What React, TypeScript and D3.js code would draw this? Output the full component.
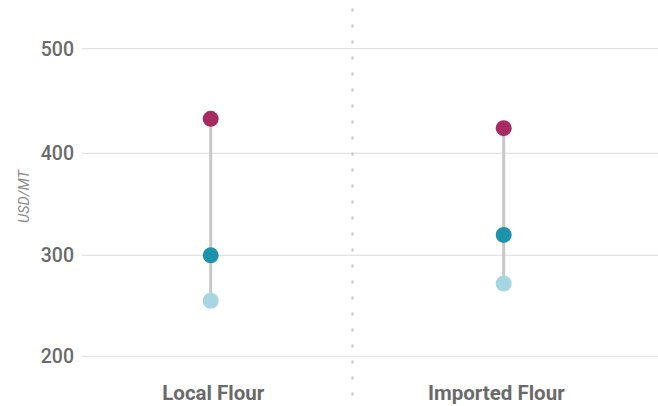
import React from "react";
import * as d3 from "d3";

const categories = ["Local Flour", "Imported Flour"];
const maxValues = [433, 424];
const avgValues = [300, 320];
const minValues = [255, 272];
const yTicks = [200, 300, 400, 500];

const W = 658;
const H = 406;

export default function App() {
  const x = d3.scalePoint<string>().domain(categories).range([210.7, 503.7]);
  const xLabel = d3.scalePoint<string>().domain(categories).range([213.3, 496.3]);
  const y = d3
    .scaleLinear()
    .domain([200, 300, 400, 500])
    .range([356.3, 255.3, 153.3, 48.7]);

  const series = [
    { name: "min", values: minValues, color: "#A6D6E1" },
    { name: "avg", values: avgValues, color: "#1B94AB" },
    { name: "max", values: maxValues, color: "#A72B63" },
  ];

  const font = "Roboto, 'Noto Sans', sans-serif";
  const grey = "#6a6a6a";

  return (
    <svg
      width={W}
      height={H}
      style={{ position: "fixed", left: 0, top: 0, display: "block", background: "#fff" }}
    >
      {yTicks.map((t) => (
        <g key={t}>
          <line x1={82} x2={W} y1={y(t)} y2={y(t)} stroke="#dcdcdc" strokeWidth={1} />
          <text
            x={74}
            y={y(t)}
            dy="0.36em"
            textAnchor="end"
            fontFamily={font}
            fontSize={19.5}
            fontWeight={500}
            fill={grey}
          >
            {t}
          </text>
        </g>
      ))}
      <text
        transform={`translate(28.5,196.5) rotate(-90)`}
        textAnchor="middle"
        fontFamily={font}
        fontStyle="italic"
        fontSize={14.5}
        fill="#8a8a8a"
      >
        USD/MT
      </text>
      <line
        x1={352.5}
        x2={352.5}
        y1={8.5}
        y2={H}
        stroke="#c4c4c4"
        strokeWidth={2}
        strokeDasharray="3 13"
      />
      {categories.map((c, i) => (
        <g key={c}>
          <line
            x1={x(c)}
            x2={x(c)}
            y1={y(maxValues[i])}
            y2={y(minValues[i])}
            stroke="#c8c8c8"
            strokeWidth={3}
          />
          {series.map((s) => (
            <circle key={s.name} cx={x(c)} cy={y(s.values[i])} r={8} fill={s.color} />
          ))}
          <text
            x={xLabel(c)}
            y={399.5}
            textAnchor="middle"
            fontFamily={font}
            fontWeight="bold"
            fontSize={20.5}
            fill={grey}
          >
            {c}
          </text>
        </g>
      ))}
    </svg>
  );
}
